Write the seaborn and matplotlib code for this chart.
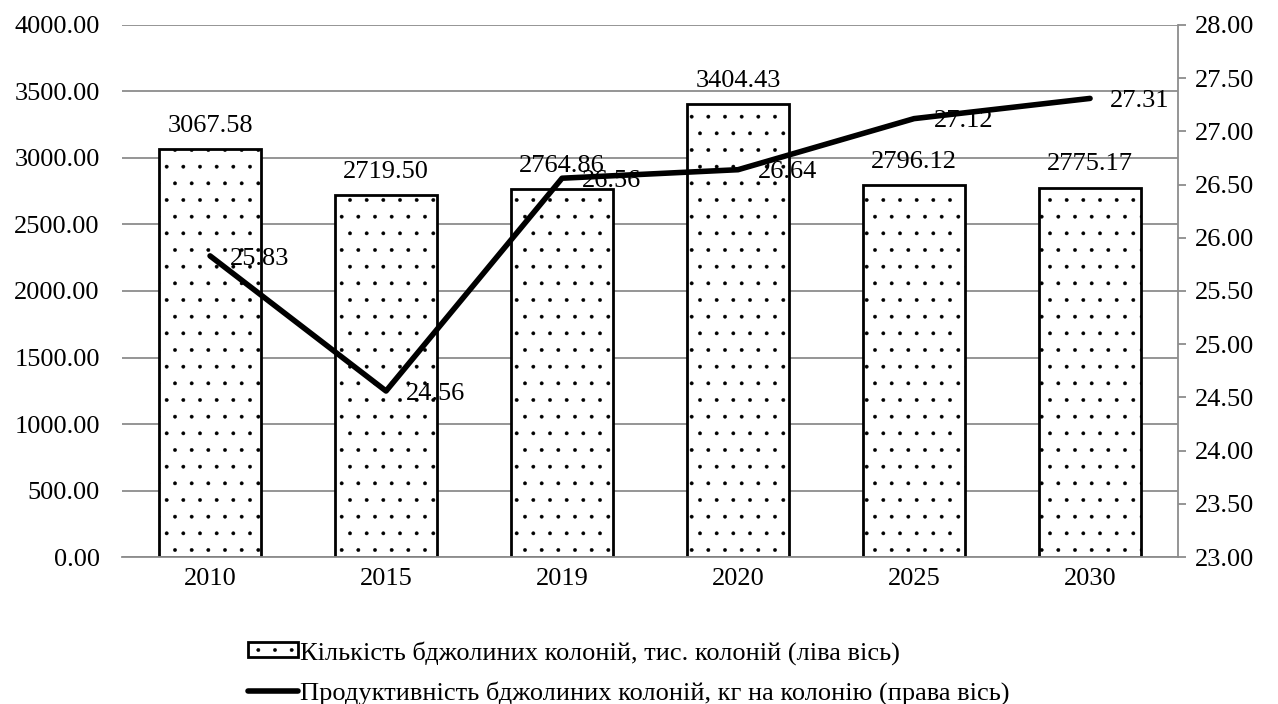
import matplotlib
matplotlib.use("Agg")
import matplotlib.pyplot as plt
import pandas as pd
import seaborn as sns
from matplotlib.lines import Line2D
from matplotlib.patches import Patch
from matplotlib.ticker import FormatStrFormatter, MultipleLocator

years = ["2010", "2015", "2019", "2020", "2025", "2030"]
colonies = [3067.58, 2719.50, 2764.86, 3404.43, 2796.12, 2775.17]
productivity = [25.83, 24.56, 26.56, 26.64, 27.12, 27.31]
bar_label = "Кількість бджолиних колоній, тис. колоній (ліва вісь)"
line_label = "Продуктивність бджолиних колоній, кг на колонію (права вісь)"

df = pd.DataFrame({"year": years, "colonies": colonies, "productivity": productivity})

sns.set_theme(style="white")
plt.rcParams["font.family"] = ["Liberation Serif", "DejaVu Serif"]
plt.rcParams["text.color"] = "black"
plt.rcParams["hatch.linewidth"] = 0.3
plt.rcParams["hatch.color"] = "black"

FS = 19
grey = "#8c8c8c"
fig, ax = plt.subplots(figsize=(12.78, 7.04), dpi=100)
fig.subplots_adjust(left=0.0955, right=0.9218, top=0.9645, bottom=0.2088)

sns.barplot(data=df, x="year", y="colonies", ax=ax, color="white",
            edgecolor="black", linewidth=2.0, width=0.58, hatch=".", zorder=2)
ax.set_ylim(0, 4000)
ax.yaxis.set_major_locator(MultipleLocator(500))
ax.yaxis.set_major_formatter(FormatStrFormatter("%.2f"))
ax.grid(axis="y", color=grey, linewidth=1.3, zorder=0)
ax.set_axisbelow(True)
ax.set_xlabel("")
ax.set_ylabel("")
for s in ["top", "left", "right"]:
    ax.spines[s].set_visible(False)
ax.spines["bottom"].set_color(grey)
ax.spines["bottom"].set_linewidth(1.3)
ax.tick_params(axis="x", length=0, labelsize=FS, colors="black", pad=8)
ax.tick_params(axis="y", length=0, labelsize=FS, colors="black", pad=16)

for i, v in enumerate(colonies):
    ax.annotate(f"{v:.2f}", (i, v), xytext=(0, 9), textcoords="offset points",
                ha="center", va="bottom", fontsize=FS, color="black")

ax2 = ax.twinx()
sns.pointplot(data=df, x="year", y="productivity", ax=ax2, color="black",
              markers="", linewidth=4.0)
ax2.set_ylim(23, 28)
ax2.yaxis.set_major_locator(MultipleLocator(0.5))
ax2.yaxis.set_major_formatter(FormatStrFormatter("%.2f"))
ax2.set_ylabel("")
ax2.set_xlabel("")
for s in ["top", "left", "bottom"]:
    ax2.spines[s].set_visible(False)
ax2.spines["right"].set_color(grey)
ax2.spines["right"].set_linewidth(1.3)
ax2.tick_params(axis="y", length=6, width=1.3, color=grey, labelsize=FS,
                labelcolor="black", pad=6, right=True)
ax2.grid(False)
ax.set_xlim(-0.5, len(years) - 0.5)
ax2.set_xlim(-0.5, len(years) - 0.5)

for i, v in enumerate(productivity):
    ax2.annotate(f"{v:.2f}", (i, v), xytext=(14, -2), textcoords="offset points",
                 ha="left", va="center", fontsize=FS, color="black")

handles = [
    Patch(facecolor="white", edgecolor="black", linewidth=2.0, hatch=".", label=bar_label),
    Line2D([0], [0], color="black", linewidth=4.0, label=line_label),
]
fig.legend(handles=handles, loc="lower center", bbox_to_anchor=(0.492, -0.035),
           ncol=1, frameon=False, fontsize=FS, handlelength=1.9, handleheight=0.5,
           handletextpad=0.1, labelspacing=0.62)

fig.savefig("out.png", dpi=100)
